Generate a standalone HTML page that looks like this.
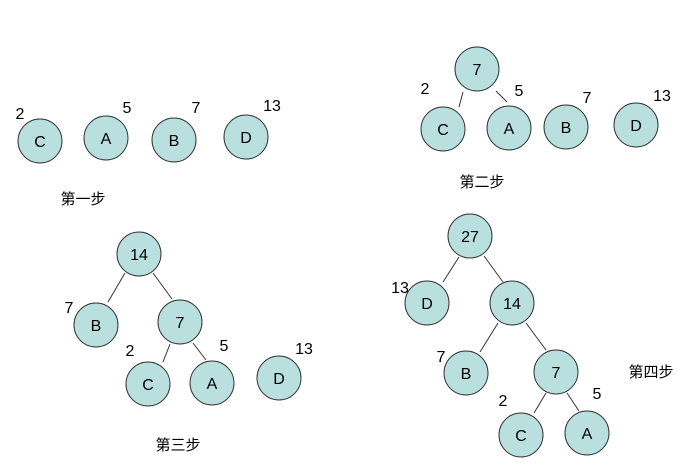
<html><body style="margin:0;width:687px;height:468px;background:#fff;overflow:hidden">
<svg width="687" height="468" xmlns="http://www.w3.org/2000/svg" font-family="Liberation Sans, Arial, sans-serif">
<g stroke="#333" stroke-width="1" fill="none">
<line x1="463" y1="92" x2="459" y2="107"/><line x1="496" y1="91" x2="507" y2="102"/>
<line x1="125" y1="273" x2="108" y2="302"/><line x1="153" y1="273" x2="172" y2="299"/>
<line x1="170" y1="344" x2="163" y2="362"/><line x1="193" y1="343" x2="206" y2="360"/>
<line x1="459" y1="257" x2="443" y2="282"/><line x1="484" y1="256" x2="503" y2="282"/>
<line x1="498" y1="323" x2="480" y2="352"/><line x1="526" y1="323" x2="546" y2="350"/>
<line x1="546" y1="393" x2="534" y2="413"/><line x1="567" y1="393" x2="579" y2="411"/>
</g>
<g fill="#b9e0df" stroke="#333" stroke-width="1">
<circle cx="40" cy="141" r="22"/><circle cx="106" cy="138" r="22"/><circle cx="174" cy="140" r="22"/><circle cx="246" cy="137" r="22"/>
<circle cx="477" cy="69" r="22"/><circle cx="443" cy="129" r="22"/><circle cx="509" cy="128" r="22"/><circle cx="566" cy="127" r="22"/><circle cx="636" cy="125" r="22"/>
<circle cx="139" cy="254" r="22"/><circle cx="96" cy="325" r="22"/><circle cx="180" cy="322" r="22"/><circle cx="148" cy="384" r="22"/><circle cx="212" cy="383" r="22"/><circle cx="279" cy="378" r="22"/>
<circle cx="470" cy="236" r="22"/><circle cx="427" cy="303" r="22"/><circle cx="512" cy="303" r="22"/><circle cx="466" cy="373" r="22"/><circle cx="556" cy="372" r="22"/><circle cx="521" cy="435" r="22"/><circle cx="587" cy="433" r="22"/>
</g>
<g font-size="16" text-anchor="middle" fill="#000">
<text x="40" y="147">C</text><text x="106" y="144">A</text><text x="174" y="146">B</text><text x="246" y="143">D</text>
<text x="477" y="75">7</text><text x="443" y="135">C</text><text x="509" y="134">A</text><text x="566" y="133">B</text><text x="636" y="131">D</text>
<text x="139" y="260">14</text><text x="96" y="331">B</text><text x="180" y="328">7</text><text x="148" y="390">C</text><text x="212" y="389">A</text><text x="279" y="384">D</text>
<text x="470" y="242">27</text><text x="427" y="309">D</text><text x="512" y="309">14</text><text x="466" y="379">B</text><text x="556" y="378">7</text><text x="521" y="441">C</text><text x="587" y="439">A</text>
<text x="20" y="119">2</text><text x="127" y="113">5</text><text x="196" y="113">7</text><text x="272" y="111">13</text>
<text x="425" y="94">2</text><text x="519" y="96">5</text><text x="587" y="103">7</text><text x="662" y="101">13</text>
<text x="69" y="313">7</text><text x="130" y="356">2</text><text x="224" y="351">5</text><text x="304" y="354">13</text>
<text x="400" y="293">13</text><text x="441" y="362">7</text><text x="503" y="406">2</text><text x="597" y="399">5</text>
</g>
<g font-size="15" text-anchor="middle" font-family="Liberation Sans, Noto Sans CJK SC, sans-serif">
<text x="83" y="204">第一步</text><text x="482" y="187">第二步</text><text x="178" y="450">第三步</text><text x="651" y="377">第四步</text>
</g>
</svg>
</body></html>
